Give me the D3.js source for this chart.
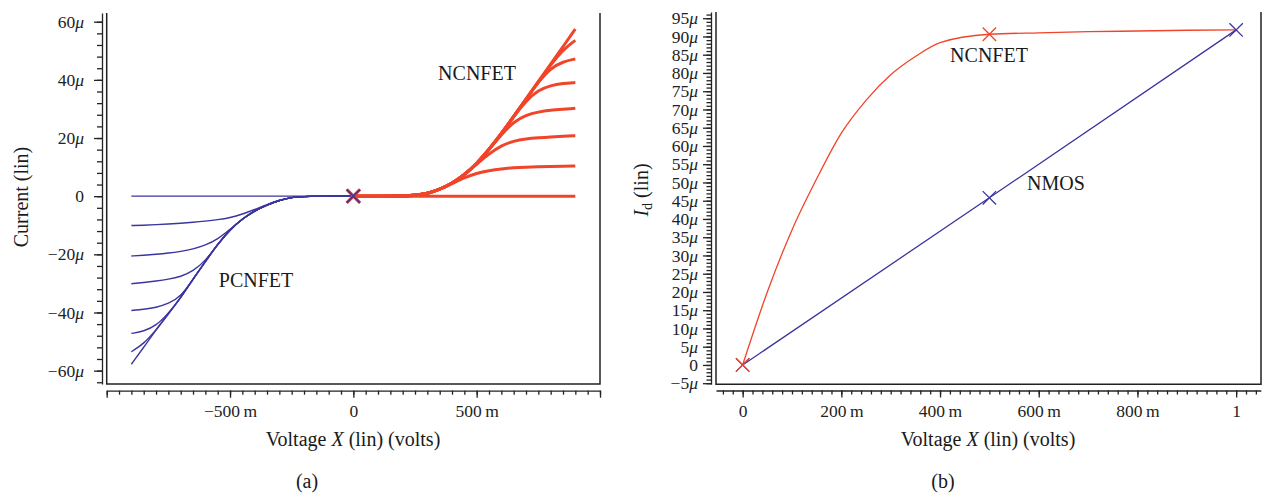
<!DOCTYPE html>
<html>
<head>
<meta charset="utf-8">
<script src="https://cdn.jsdelivr.net/npm/d3@7"></script>
<style>
  body { margin: 0; background: #fff; }
  svg { display: block; font-family: "Liberation Serif", "DejaVu Serif", serif; }
  .axis path, .axis line { stroke: #222; stroke-width: 1.3; }
  .axis text { font-size: 17.5px; fill: #222; font-family: "Liberation Serif", serif; }
  .frame { fill: none; stroke: #222; stroke-width: 1.5; }
  .lbl { font-size: 20px; fill: #1a1a1a; }
</style>
</head>
<body>
<svg width="1262" height="494"></svg>
<script>
// ---- panel (a): drain sweeps, current in uA ----
var pcnfetV = [-0.9, -0.85, -0.8, -0.75, -0.7, -0.65, -0.6, -0.55, -0.5, -0.45, -0.4, -0.35, -0.3, -0.25, -0.2, 0];
var pcnfet0 = [0, 0, 0, 0, 0, 0, 0, 0, 0, 0, 0, 0, 0, 0, 0, 0];
var pcnfet1 = [-10.1, -10.0, -9.8, -9.6, -9.3, -9.0, -8.6, -8.1, -7.4, -6.2, -4.6, -2.9, -1.4, -0.4, 0, 0];
var pcnfet2 = [-20.6, -20.3, -20.0, -19.6, -19.0, -18.2, -16.9, -14.8, -11.4, -7.8, -5.0, -3.0, -1.4, -0.4, 0, 0];
var pcnfet3 = [-30.1, -29.7, -29.2, -28.6, -27.7, -25.8, -22.3, -16.5, -11.5, -7.8, -5.0, -3.0, -1.4, -0.4, 0, 0];
var pcnfet4 = [-39.3, -38.9, -38.3, -37.0, -34.6, -28.5, -22.5, -16.5, -11.5, -7.8, -5.0, -3.0, -1.4, -0.4, 0, 0];
var pcnfet5 = [-47.2, -46.5, -44.6, -40.3, -35.0, -28.5, -22.5, -16.5, -11.5, -7.8, -5.0, -3.0, -1.4, -0.4, 0, 0];
var pcnfet6 = [-53.5, -50.8, -46.0, -40.5, -35.0, -28.5, -22.5, -16.5, -11.5, -7.8, -5.0, -3.0, -1.4, -0.4, 0, 0];
var pcnfet7 = [-57.8, -52.0, -46.0, -40.5, -35.0, -28.5, -22.5, -16.5, -11.5, -7.8, -5.0, -3.0, -1.4, -0.4, 0, 0];

var ncnfetV = [0, 0.25, 0.3, 0.35, 0.4, 0.45, 0.5, 0.55, 0.6, 0.65, 0.7, 0.75, 0.8, 0.85, 0.9];
var ncnfet0 = [0, 0, 0, 0, 0, 0, 0, 0, 0, 0, 0, 0, 0, 0, 0];
var ncnfet1 = [0, 0, 0.9, 2.3, 4.3, 6.4, 7.9, 8.8, 9.4, 9.8, 10.0, 10.1, 10.2, 10.3, 10.4];
var ncnfet2 = [0, 0, 0.9, 2.3, 4.4, 7.3, 11.0, 14.6, 17.4, 19.0, 19.7, 20.1, 20.4, 20.6, 20.8];
var ncnfet3 = [0, 0, 0.9, 2.3, 4.4, 7.3, 11.2, 16.0, 21.2, 25.6, 27.9, 29.0, 29.6, 29.9, 30.2];
var ncnfet4 = [0, 0, 0.9, 2.3, 4.4, 7.3, 11.2, 16.0, 21.5, 27.4, 32.8, 36.5, 38.1, 38.8, 39.1];
var ncnfet5 = [0, 0, 0.9, 2.3, 4.4, 7.3, 11.2, 16.0, 21.5, 27.4, 33.4, 39.2, 44.0, 46.3, 47.2];
var ncnfet6 = [0, 0, 0.9, 2.3, 4.4, 7.3, 11.2, 16.0, 21.5, 27.4, 33.4, 39.4, 45.2, 50.4, 53.6];
var ncnfet7 = [0, 0, 0.9, 2.3, 4.4, 7.3, 11.2, 16.0, 21.5, 27.4, 33.4, 39.4, 45.4, 51.4, 57.5];

// ---- panel (b): Id vs voltage ----
var cntV  = [0, 0.05, 0.1, 0.15, 0.2, 0.25, 0.3, 0.35, 0.4, 0.5, 0.6, 0.7, 0.8, 0.9, 1.0];
var cntId = [0, 20, 37, 51, 63.5, 72.5, 79.5, 84.5, 88.3, 90.6, 91.0, 91.3, 91.5, 91.7, 91.8];
var cntMarks = [0, 0.5];
var nmosV  = [0, 0.5, 1];
var nmosId = [0, 45.8, 91.8];

var aYTicks = [-60, -40, -20, 0, 20, 40, 60];
var aXTicks = [-0.5, 0, 0.5];
var bYTicks = [-5, 0, 5, 10, 15, 20, 25, 30, 35, 40, 45, 50, 55, 60, 65, 70, 75, 80, 85, 90, 95];
var bXTicks = [0, 0.2, 0.4, 0.6, 0.8, 1];

var blue = "#3b35a0", red = "#f0452a";
var svg = d3.select("svg");

function zip(xs, ys) { return xs.map(function(v, i) { return {v: v, i: ys[i]}; }); }

function microLabels(g) {
  g.selectAll(".tick text").each(function(d) {
    var t = d3.select(this);
    if (d === 0) { t.text("0"); return; }
    t.text((d < 0 ? "\u2212" : "") + Math.abs(d));
    t.append("tspan").attr("font-style", "italic").text("\u03bc");
  });
}
function milliFormat(d) {
  if (d === 0) return "0";
  if (Math.abs(d) === 1) return (d < 0 ? "\u2212" : "") + "1";
  return (d < 0 ? "\u2212" : "") + Math.round(Math.abs(d) * 1000) + "\u2009m";
}

function cross(g, x, y, color, w) {
  var s = 6.7;
  g.append("path")
    .attr("d", "M" + (x - s) + "," + (y - s) + "L" + (x + s) + "," + (y + s) +
               "M" + (x - s) + "," + (y + s) + "L" + (x + s) + "," + (y - s))
    .attr("stroke", color).attr("stroke-width", w).attr("fill", "none");
}

// ================= panel (a) =================
var xa = d3.scaleLinear().domain([-1, 1]).range([106.7, 600]);
var ya = d3.scaleLinear().domain([-64.6, 63]).range([384, 13]);

var ga = svg.append("g");

ga.append("path").attr("class", "frame")
  .attr("d", "M" + xa(-1) + "," + ya(63) + "V" + ya(-64.6) + "H" + xa(1) + "V" + ya(63));

var ayMinor = ga.append("g").attr("class", "axis")
  .attr("transform", "translate(102,0)")
  .call(d3.axisLeft(ya).tickValues(d3.range(-64, 61, 4)).tickSize(5).tickSizeOuter(0).tickFormat(""));
var ayMajor = ga.append("g").attr("class", "axis")
  .attr("transform", "translate(102,0)")
  .call(d3.axisLeft(ya).tickValues(aYTicks).tickSize(8).tickPadding(10).tickSizeOuter(0));
ayMajor.select(".domain").remove();
microLabels(ayMajor);

var axMinor = ga.append("g").attr("class", "axis")
  .attr("transform", "translate(0,390.7)")
  .call(d3.axisBottom(xa).tickValues(d3.range(-1, 1.001, 0.05)).tickSize(4).tickSizeOuter(0).tickFormat(""));
var axMajor = ga.append("g").attr("class", "axis")
  .attr("transform", "translate(0,390.7)")
  .call(d3.axisBottom(xa).tickValues([-1].concat(aXTicks, [1])).tickSize(7).tickPadding(7).tickSizeOuter(0)
        .tickFormat(function(d) { return Math.abs(d) === 1 ? "" : milliFormat(d); }));
axMajor.select(".domain").remove();

var lineA = d3.line().curve(d3.curveBasis)
  .x(function(d) { return xa(d.v); })
  .y(function(d) { return ya(d.i); });

[pcnfet0, pcnfet1, pcnfet2, pcnfet3, pcnfet4, pcnfet5, pcnfet6, pcnfet7].forEach(function(c) {
  ga.append("path").datum(zip(pcnfetV, c))
    .attr("d", lineA).attr("fill", "none").attr("stroke", blue).attr("stroke-width", 1.4);
});
[ncnfet0, ncnfet1, ncnfet2, ncnfet3, ncnfet4, ncnfet5, ncnfet6, ncnfet7].forEach(function(c) {
  ga.append("path").datum(zip(ncnfetV, c))
    .attr("d", lineA).attr("fill", "none").attr("stroke", red).attr("stroke-width", 3);
});
cross(ga, xa(0), ya(0), red, 3.2);
cross(ga, xa(0), ya(0), blue, 1.6);

ga.append("text").attr("class", "lbl").attr("x", 477).attr("y", 80).attr("text-anchor", "middle").text("NCNFET");
ga.append("text").attr("class", "lbl").attr("x", 256).attr("y", 287).attr("text-anchor", "middle").text("PCNFET");

ga.append("text").attr("class", "lbl")
  .attr("transform", "translate(28,197)rotate(-90)").attr("text-anchor", "middle")
  .text("Current (lin)");

var ta = ga.append("text").attr("class", "lbl").attr("x", 353).attr("y", 446).attr("text-anchor", "middle");
ta.append("tspan").text("Voltage ");
ta.append("tspan").attr("font-style", "italic").text("X");
ta.append("tspan").text(" (lin) (volts)");

ga.append("text").attr("class", "lbl").attr("x", 307).attr("y", 488).attr("text-anchor", "middle").text("(a)");

// ================= panel (b) =================
var xb = d3.scaleLinear().domain([-0.054, 1.05]).range([716, 1260.8]);
var yb = d3.scaleLinear().domain([-5.3, 96.7]).range([384.3, 12]);

var gb = svg.append("g");

gb.append("path").attr("class", "frame")
  .attr("d", "M" + xb(-0.054) + "," + yb(96.7) + "V" + yb(-5.3) + "H1261V" + yb(96.7));

var byMinor = gb.append("g").attr("class", "axis")
  .attr("transform", "translate(711,0)")
  .call(d3.axisLeft(yb).tickValues(d3.range(-5, 97, 1)).tickSize(4.5).tickSizeOuter(0).tickFormat(""));
var byMajor = gb.append("g").attr("class", "axis")
  .attr("transform", "translate(711,0)")
  .call(d3.axisLeft(yb).tickValues(bYTicks).tickSize(8).tickPadding(5).tickSizeOuter(0));
byMajor.select(".domain").remove();
microLabels(byMajor);

var bxMinor = gb.append("g").attr("class", "axis")
  .attr("transform", "translate(0,390.5)")
  .call(d3.axisBottom(xb).tickValues(d3.range(-0.04, 1.05, 0.02)).tickSize(4).tickSizeOuter(0).tickFormat(""));
var bxMajor = gb.append("g").attr("class", "axis")
  .attr("transform", "translate(0,390.5)")
  .call(d3.axisBottom(xb).tickValues(bXTicks).tickSize(7).tickPadding(7).tickSizeOuter(0).tickFormat(milliFormat));
bxMajor.select(".domain").remove();

var lineB = d3.line().curve(d3.curveMonotoneX)
  .x(function(d) { return xb(d.v); })
  .y(function(d) { return yb(d.i); });

gb.append("path").datum(zip(cntV, cntId))
  .attr("d", lineB).attr("fill", "none").attr("stroke", red).attr("stroke-width", 1.3);
gb.append("path").datum(zip(nmosV, nmosId))
  .attr("d", d3.line().x(function(d) { return xb(d.v); }).y(function(d) { return yb(d.i); }))
  .attr("fill", "none").attr("stroke", blue).attr("stroke-width", 1.3);

nmosV.forEach(function(v, k) { cross(gb, xb(v), yb(nmosId[k]), blue, 1.3); });
cntMarks.forEach(function(v) { cross(gb, xb(v), yb(cntId[cntV.indexOf(v)]), red, 1.3); });

gb.append("text").attr("class", "lbl").attr("x", 989).attr("y", 62).attr("text-anchor", "middle").text("NCNFET");
gb.append("text").attr("class", "lbl").attr("x", 1056).attr("y", 190).attr("text-anchor", "middle").text("NMOS");

var tyb = gb.append("text").attr("class", "lbl")
  .attr("transform", "translate(648,190)rotate(-90)").attr("text-anchor", "middle");
tyb.append("tspan").attr("font-style", "italic").text("I");
tyb.append("tspan").attr("font-size", "14px").attr("dy", 4).text("d");
tyb.append("tspan").attr("dy", -4).text(" (lin)");

var tb = gb.append("text").attr("class", "lbl").attr("x", 988).attr("y", 446).attr("text-anchor", "middle");
tb.append("tspan").text("Voltage ");
tb.append("tspan").attr("font-style", "italic").text("X");
tb.append("tspan").text(" (lin) (volts)");

gb.append("text").attr("class", "lbl").attr("x", 943).attr("y", 488).attr("text-anchor", "middle").text("(b)");
</script>
</body>
</html>
